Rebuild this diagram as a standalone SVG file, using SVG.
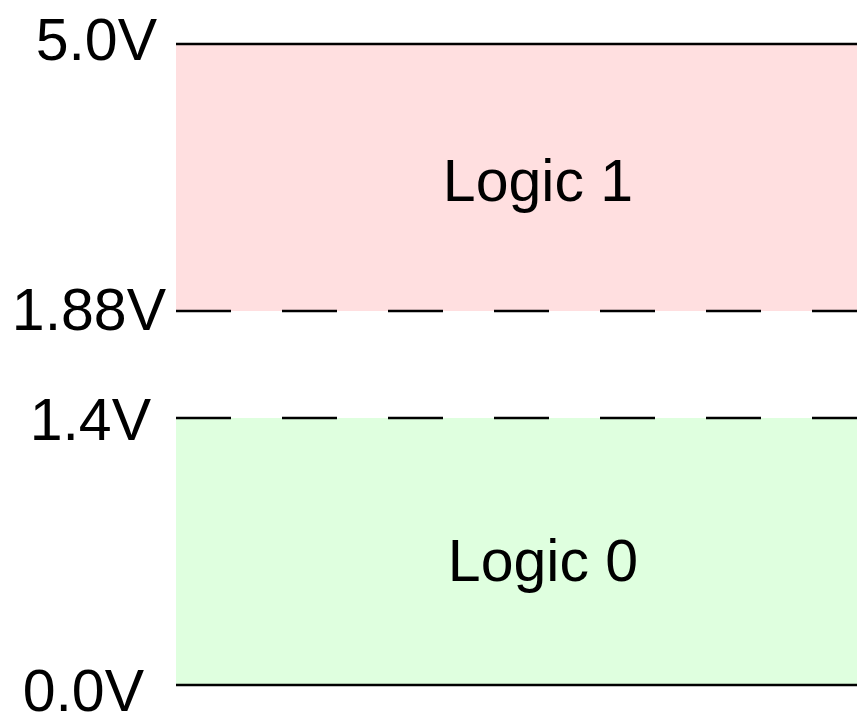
<svg xmlns="http://www.w3.org/2000/svg" width="857" height="715" viewBox="0 0 857 715">
<style>
text{font-family:"Liberation Sans",Arial,sans-serif;font-size:59px;fill:#000}
.lbl{text-anchor:end}
.mid{text-anchor:middle}
.solid{stroke:#000;stroke-width:2.4;fill:none}
.dash{stroke:#000;stroke-width:2.4;fill:none;stroke-dasharray:55 51}
</style>
<rect width="857" height="715" fill="#fff"/>
<g id="logic1">
<rect x="176" y="44" width="681" height="267" fill="#ffdfe0"/>
<text class="mid" x="538" y="201">Logic 1</text>
</g>
<g id="logic0">
<rect x="176" y="418" width="681" height="267" fill="#dfffdf"/>
<text class="mid" x="543" y="581">Logic 0</text>
</g>
<g id="levels">
<line class="solid" x1="176" y1="44" x2="857" y2="44"/>
<line class="dash" x1="176" y1="311" x2="857" y2="311"/>
<line class="dash" x1="176" y1="418" x2="857" y2="418"/>
<line class="solid" x1="176" y1="685" x2="857" y2="685"/>
<text class="lbl" x="157" y="60">5.0V</text>
<text class="lbl" x="166" y="330">1.88V</text>
<text class="lbl" x="151" y="440">1.4V</text>
<text class="lbl" x="144" y="711">0.0V</text>
</g>
</svg>
